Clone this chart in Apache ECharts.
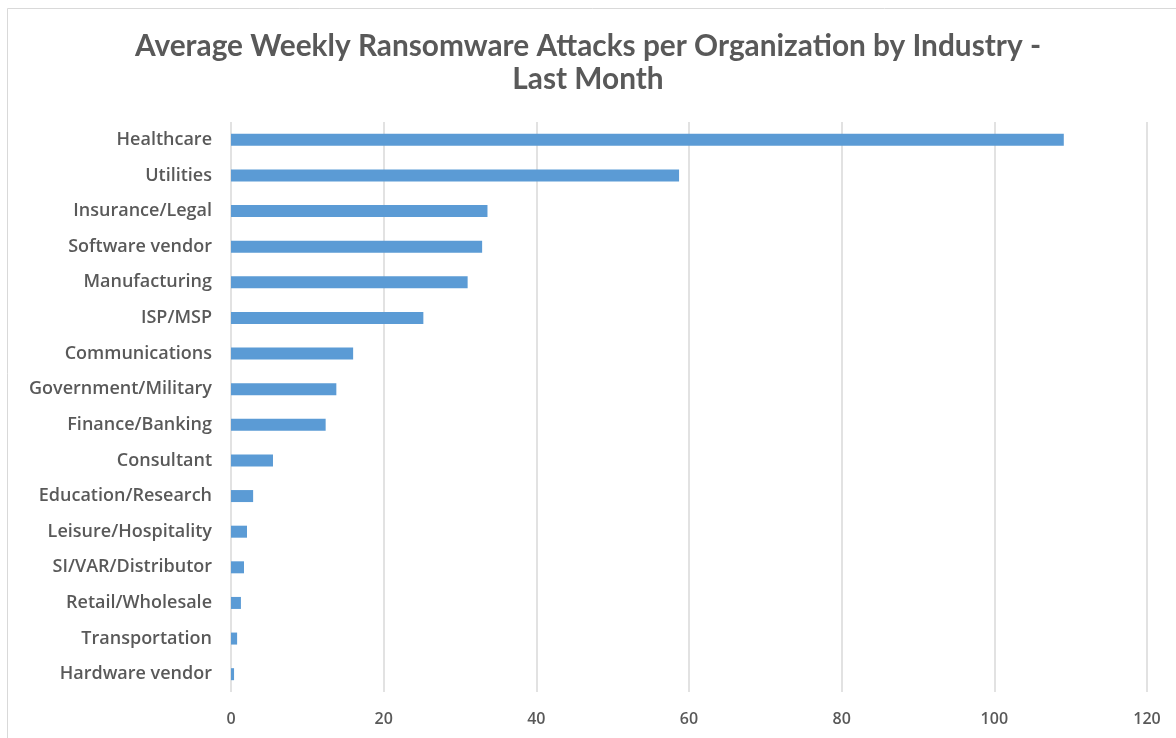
<!DOCTYPE html>
<html>
<head>
<meta charset="utf-8">
<script src="https://cdn.jsdelivr.net/npm/echarts@6/dist/echarts.min.js"></script>
<style>html,body{margin:0;padding:0;background:#fff;}#c{width:1176px;height:738px;}</style>
</head>
<body>
<div id="c"></div>
<script>
const titleText = 'Average Weekly Ransomware Attacks per Organization by Industry -\nLast Month';
const industries = ['Healthcare','Utilities','Insurance/Legal','Software vendor','Manufacturing','ISP/MSP','Communications','Government/Military','Finance/Banking','Consultant','Education/Research','Leisure/Hospitality','SI/VAR/Distributor','Retail/Wholesale','Transportation','Hardware vendor'];
const attacks = [109.1, 58.7, 33.6, 32.9, 31.0, 25.2, 16.0, 13.8, 12.4, 5.5, 2.9, 2.1, 1.7, 1.3, 0.8, 0.4];
const xTicks = {min: 0, max: 120, interval: 20};

const chart = echarts.init(document.getElementById('c'));
chart.setOption({
  animation: false,
  backgroundColor: '#fff',
  graphic: [{
    type: 'rect', left: 5, top: 6, silent: true,
    shape: {width: 1300, height: 900},
    style: {fill: 'none', stroke: '#d9d9d9', lineWidth: 1}
  }],
  title: {
    text: titleText,
    left: 'center', top: 25,
    textStyle: {fontFamily: 'Lato', fontWeight: 'bold', fontSize: 29.8, color: '#595959', lineHeight: 33}
  },
  grid: {left: 231, right: 29, top: 122, bottom: 46, containLabel: false},
  xAxis: {
    type: 'value', min: xTicks.min, max: xTicks.max, interval: xTicks.interval,
    axisLine: {show: false}, axisTick: {show: false},
    splitLine: {show: true, lineStyle: {color: '#d9d9d9', width: 1.5}},
    axisLabel: {margin: 19, fontFamily: 'Open Sans', fontWeight: 600, fontSize: 16, color: '#595959'}
  },
  yAxis: {
    type: 'category', data: industries, inverse: true,
    axisLine: {show: false}, axisTick: {show: false},
    axisLabel: {margin: 19, fontFamily: 'Open Sans', fontWeight: 600, fontSize: 18, color: '#595959'}
  },
  series: [{
    type: 'bar', data: attacks, barWidth: 12,
    itemStyle: {color: '#5B9BD5'}
  }]
});
</script>
</body>
</html>
